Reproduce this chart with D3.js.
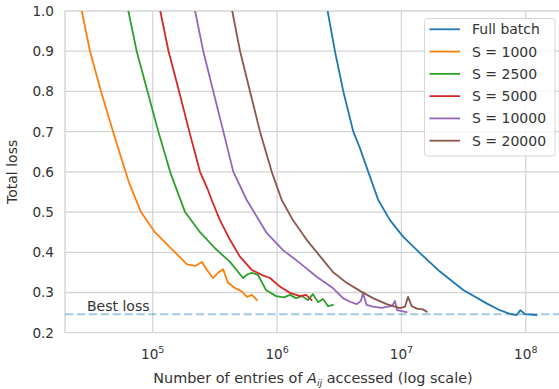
<!DOCTYPE html>
<html>
<head>
<meta charset="utf-8">
<script src="https://cdn.jsdelivr.net/npm/d3@7"></script>
<style>
    body { margin: 0; background: #fff; }
    svg text { font-family: "DejaVu Sans", sans-serif; fill: #333; }
</style>
</head>
<body>
<svg id="chart" width="559" height="389"></svg>
<script>
// accessed entries (x) and total loss (y)
const fullBatchX = [2.55e6, 2.92e6, 3.41e6, 4.10e6, 4.64e6, 5.41e6, 6.51e6, 8.09e6, 1.03e7, 1.41e7, 2.04e7, 3.14e7, 4.84e7, 6.19e7, 7.45e7, 8.43e7, 9.06e7, 9.84e7, 1.22e8];
const fullBatchY = [1.0, 0.9, 0.8, 0.7, 0.659, 0.6, 0.53, 0.48, 0.439, 0.398, 0.352, 0.306, 0.273, 0.256, 0.247, 0.244, 0.256, 0.246, 0.244];

const s1000X = [2.69e4, 3.13e4, 3.84e4, 4.80e4, 5.77e4, 6.50e4, 8.05e4, 1.04e5, 1.51e5, 1.89e5, 2.19e5, 2.49e5, 2.73e5, 3.05e5, 3.35e5, 3.68e5, 4.03e5, 4.59e5, 5.13e5, 5.73e5, 6.28e5, 6.89e5];
const s1000Y = [1.0, 0.9, 0.8, 0.7, 0.62, 0.57, 0.5, 0.45, 0.4, 0.37, 0.366, 0.376, 0.356, 0.336, 0.349, 0.358, 0.324, 0.311, 0.304, 0.289, 0.294, 0.281];

const s2500X = [6.37e4, 7.43e4, 9.08e4, 1.11e5, 1.38e5, 1.51e5, 1.82e5, 2.40e5, 3.17e5, 4.18e5, 5.32e5, 5.83e5, 6.28e5, 7.02e5, 8.15e5, 9.80e5, 1.14e6, 1.27e6, 1.42e6, 1.59e6, 1.77e6, 1.94e6, 2.13e6, 2.34e6, 2.57e6, 2.82e6];
const s2500Y = [1.0, 0.9, 0.8, 0.7, 0.6, 0.567, 0.5, 0.45, 0.41, 0.376, 0.336, 0.346, 0.349, 0.344, 0.306, 0.291, 0.288, 0.294, 0.286, 0.291, 0.281, 0.296, 0.276, 0.284, 0.266, 0.269];

const s5000X = [1.15e5, 1.34e5, 1.63e5, 1.97e5, 2.40e5, 2.78e5, 2.98e5, 3.47e5, 4.18e5, 5.03e5, 6.25e5, 7.52e5, 8.77e5, 1.06e6, 1.27e6, 1.53e6, 1.71e6, 1.90e6];
const s5000Y = [1.0, 0.9, 0.8, 0.7, 0.6, 0.555, 0.53, 0.48, 0.431, 0.389, 0.356, 0.344, 0.336, 0.314, 0.299, 0.291, 0.294, 0.281];

const s10000X = [2.19e5, 2.55e5, 3.07e5, 3.70e5, 4.45e5, 5.70e5, 8.25e5, 1.11e6, 1.53e6, 2.08e6, 2.81e6, 3.39e6, 3.86e6, 4.37e6, 4.72e6, 4.91e6, 5.25e6, 5.90e6, 6.93e6, 7.79e6, 8.39e6, 8.87e6, 9.21e6, 1.10e7];
const s10000Y = [1.0, 0.9, 0.8, 0.7, 0.6, 0.53, 0.448, 0.406, 0.373, 0.339, 0.311, 0.286, 0.277, 0.271, 0.279, 0.299, 0.269, 0.265, 0.262, 0.265, 0.266, 0.279, 0.256, 0.251];

const s20000X = [4.36e5, 5.04e5, 6.06e5, 7.29e5, 9.06e5, 1.09e6, 1.34e6, 1.73e6, 2.34e6, 2.81e6, 3.62e6, 4.64e6, 5.90e6, 7.60e6, 9.73e6, 1.07e7, 1.13e7, 1.21e7, 1.33e7, 1.49e7, 1.60e7];
const s20000Y = [1.0, 0.9, 0.8, 0.7, 0.6, 0.53, 0.48, 0.431, 0.381, 0.351, 0.324, 0.304, 0.286, 0.271, 0.261, 0.265, 0.289, 0.266, 0.26, 0.258, 0.252];

const seriesNames = ['Full batch', 'S = 1000', 'S = 2500', 'S = 5000', 'S = 10000', 'S = 20000'];
const seriesX = [fullBatchX, s1000X, s2500X, s5000X, s10000X, s20000X];
const seriesY = [fullBatchY, s1000Y, s2500Y, s5000Y, s10000Y, s20000Y];
const colors = ['#1f77b4', '#ff7f0e', '#2ca02c', '#d62728', '#9467bd', '#8c564b'];

const bestLoss = 0.246;
const xTicks = [1e5, 1e6, 1e7, 1e8];
const yTicks = [0.2, 0.3, 0.4, 0.5, 0.6, 0.7, 0.8, 0.9, 1.0];

const M = {left: 65, top: 11, right: 561, bottom: 332.7};

const x = d3.scaleLog().domain([1.97e4, 1.92e8]).range([M.left, M.right]);
const y = d3.scaleLinear().domain([0.2, 1.0]).range([M.bottom, M.top]);

const svg = d3.select('#chart');

svg.append('defs').append('clipPath').attr('id', 'clip')
    .append('rect')
    .attr('x', M.left).attr('y', M.top)
    .attr('width', M.right - M.left).attr('height', M.bottom - M.top);

// grid
const grid = svg.append('g');
grid.selectAll('line.gx')
    .data(xTicks)
    .enter().append('line')
    .attr('x1', d => x(d)).attr('x2', d => x(d))
    .attr('y1', M.top).attr('y2', M.bottom)
    .attr('stroke', '#d5d5d5').attr('stroke-width', 1.3);
grid.selectAll('line.gy')
    .data(yTicks)
    .enter().append('line')
    .attr('x1', M.left).attr('x2', M.right)
    .attr('y1', d => y(d)).attr('y2', d => y(d))
    .attr('stroke', '#d5d5d5').attr('stroke-width', 1.3);

// spines
svg.append('line').attr('x1', M.left).attr('x2', M.left).attr('y1', M.top).attr('y2', M.bottom)
    .attr('stroke', '#d5d5d5').attr('stroke-width', 1.4);

// tick labels
svg.append('g').selectAll('text')
    .data(yTicks)
    .enter().append('text')
    .attr('x', M.left - 11)
    .attr('y', d => y(d))
    .attr('dy', '0.36em')
    .attr('text-anchor', 'end')
    .attr('font-size', 13.6)
    .text(d => d.toFixed(1));

const xt = svg.append('g').selectAll('text')
    .data(xTicks)
    .enter().append('text')
    .attr('x', d => x(d))
    .attr('y', 359)
    .attr('text-anchor', 'middle')
    .attr('font-size', 13.6);
xt.append('tspan').text('10');
xt.append('tspan').attr('dy', -6).attr('font-size', 9.5).text(d => Math.round(Math.log10(d)));

// axis labels
const xl = svg.append('text')
    .attr('x', (M.left + M.right) / 2)
    .attr('y', 383)
    .attr('text-anchor', 'middle')
    .attr('font-size', 14.4);
xl.append('tspan').text('Number of entries of ');
xl.append('tspan').attr('font-style', 'italic').text('A');
xl.append('tspan').attr('font-style', 'italic').attr('font-size', 9.5).attr('dy', 3).text('ij');
xl.append('tspan').attr('dy', -3).text(' accessed (log scale)');

svg.append('text')
    .attr('transform', `translate(17, ${(M.top + M.bottom) / 2}) rotate(-90)`)
    .attr('text-anchor', 'middle')
    .attr('font-size', 14)
    .text('Total loss');

// series
const line = d3.line()
    .x(d => x(d[0]))
    .y(d => y(d[1]));

svg.append('g')
    .attr('clip-path', 'url(#clip)')
    .selectAll('path')
    .data(seriesX.map((xs, i) => xs.map((v, j) => [v, seriesY[i][j]])))
    .enter().append('path')
    .attr('d', line)
    .attr('fill', 'none')
    .attr('stroke', (d, i) => colors[i])
    .attr('stroke-width', 1.8)
    .attr('stroke-linejoin', 'round')
    .attr('stroke-linecap', 'round');

// best loss
svg.append('line')
    .attr('x1', M.left).attr('x2', M.right)
    .attr('y1', y(bestLoss)).attr('y2', y(bestLoss))
    .attr('stroke', '#1f77b4').attr('stroke-opacity', 0.4)
    .attr('stroke-width', 2)
    .attr('stroke-dasharray', '8.3,3.6');

svg.append('text')
    .attr('x', 87).attr('y', y(bestLoss) - 3.5)
    .attr('font-size', 14)
    .text('Best loss');

// legend
const lg = svg.append('g');
lg.append('rect')
    .attr('x', 424.5).attr('y', 18.5)
    .attr('width', 130.5).attr('height', 137.5)
    .attr('rx', 3)
    .attr('fill', '#fff').attr('fill-opacity', 0.8)
    .attr('stroke', '#d5d5d5').attr('stroke-width', 1);

const items = lg.selectAll('g.item')
    .data(seriesNames)
    .enter().append('g')
    .attr('transform', (d, i) => `translate(0, ${29.3 + i * 22.28})`);
items.append('line')
    .attr('x1', 429.5).attr('x2', 460)
    .attr('stroke', (d, i) => colors[i])
    .attr('stroke-width', 1.8);
items.append('text')
    .attr('x', 472)
    .attr('dy', '0.36em')
    .attr('font-size', 14)
    .text(d => d);
</script>
</body>
</html>
